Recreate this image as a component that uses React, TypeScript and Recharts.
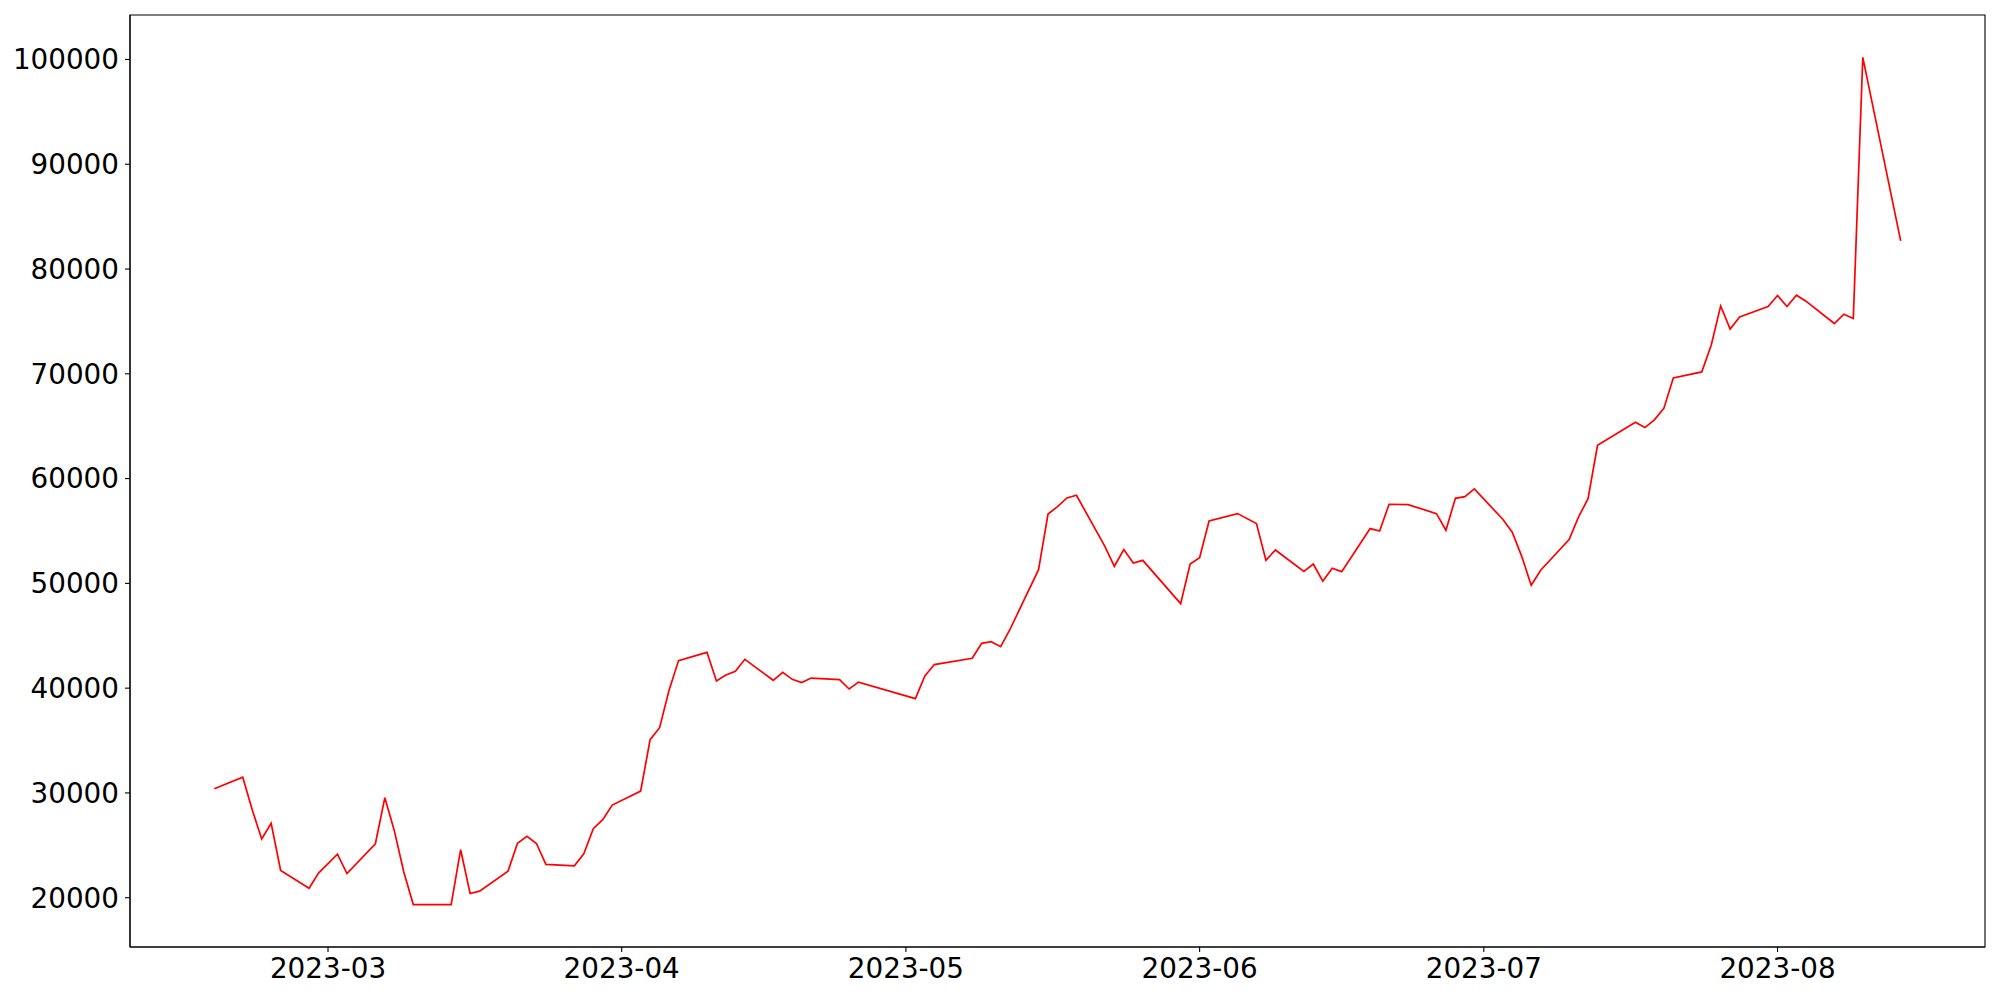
import React from 'react';
import { LineChart, Line, XAxis, YAxis, ReferenceArea } from 'recharts';

// trading dates, one line per month
const dates = [
  '2023-02-17', '2023-02-20', '2023-02-21', '2023-02-22', '2023-02-23', '2023-02-24', '2023-02-27', '2023-02-28',
  '2023-03-02', '2023-03-03', '2023-03-06', '2023-03-07', '2023-03-08', '2023-03-09', '2023-03-10', '2023-03-14', '2023-03-15', '2023-03-16', '2023-03-17', '2023-03-20', '2023-03-21', '2023-03-22', '2023-03-23', '2023-03-24', '2023-03-27', '2023-03-28', '2023-03-29', '2023-03-30', '2023-03-31',
  '2023-04-03', '2023-04-04', '2023-04-05', '2023-04-06', '2023-04-07', '2023-04-10', '2023-04-11', '2023-04-12', '2023-04-13', '2023-04-14', '2023-04-17', '2023-04-18', '2023-04-19', '2023-04-20', '2023-04-21', '2023-04-24', '2023-04-25', '2023-04-26',
  '2023-05-02', '2023-05-03', '2023-05-04', '2023-05-08', '2023-05-09', '2023-05-10', '2023-05-11', '2023-05-12', '2023-05-15', '2023-05-16', '2023-05-17', '2023-05-18', '2023-05-19', '2023-05-22', '2023-05-23', '2023-05-24', '2023-05-25', '2023-05-26', '2023-05-30', '2023-05-31',
  '2023-06-01', '2023-06-02', '2023-06-05', '2023-06-07', '2023-06-08', '2023-06-09', '2023-06-12', '2023-06-13', '2023-06-14', '2023-06-15', '2023-06-16', '2023-06-19', '2023-06-20', '2023-06-21', '2023-06-23', '2023-06-26', '2023-06-27', '2023-06-28', '2023-06-29', '2023-06-30',
  '2023-07-03', '2023-07-04', '2023-07-05', '2023-07-06', '2023-07-07', '2023-07-10', '2023-07-11', '2023-07-12', '2023-07-13', '2023-07-17', '2023-07-18', '2023-07-19', '2023-07-20', '2023-07-21', '2023-07-24', '2023-07-25', '2023-07-26', '2023-07-27', '2023-07-28', '2023-07-31',
  '2023-08-01', '2023-08-02', '2023-08-03', '2023-08-04', '2023-08-07', '2023-08-08', '2023-08-09', '2023-08-10', '2023-08-14',
];

const values = [
  30400, 31500, 28400, 25600, 27100, 22600, 20900, 22350,
  24150, 22300, 25150, 29550, 26400, 22450, 19350, 19340, 24580, 20400, 20630, 22540, 25200, 25850, 25180, 23180, 23050, 24200, 26590, 27450, 28840,
  30180, 35080, 36230, 39790, 42630, 43420, 40680, 41250, 41600, 42750, 40750, 41500, 40840, 40530, 40960, 40810, 39920, 40580,
  39000, 41160, 42250, 42850, 44280, 44440, 43960, 45640, 51310, 56620, 57330, 58150, 58410, 53540, 51630, 53220, 51940, 52200, 48070, 51850,
  52450, 55950, 56660, 55710, 52200, 53190, 51150, 51850, 50200, 51440, 51120, 55230, 55000, 57550, 57520, 56660, 55070, 58120, 58280, 59010,
  56120, 54880, 52580, 49820, 51250, 54180, 56340, 58090, 63180, 65380, 64870, 65600, 66700, 69600, 70180, 72730, 76480, 74280, 75430, 76420,
  77470, 76420, 77500, 76930, 74800, 75690, 75280, 100200, 82690,
];

const monthTicks = ['2023-03-01', '2023-04-01', '2023-05-01', '2023-06-01', '2023-07-01', '2023-08-01'];
const yTicks = [20000, 30000, 40000, 50000, 60000, 70000, 80000, 90000, 100000];

const toTs = (s: string) => {
  const [y, m, d] = s.split('-').map(Number);
  return Date.UTC(y, m - 1, d);
};

const data = dates.map((d, i) => ({ t: toTs(d), v: values[i] }));

// matplotlib-like 5% margins
const tMin = Math.min(...data.map((p) => p.t));
const tMax = Math.max(...data.map((p) => p.t));
const vMin = Math.min(...values);
const vMax = Math.max(...values);
const xDomain = [tMin - (tMax - tMin) * 0.05, tMax + (tMax - tMin) * 0.05];
const yDomain = [vMin - (vMax - vMin) * 0.05, vMax + (vMax - vMin) * 0.05];

const fmtMonth = (t: number) => {
  const d = new Date(t);
  return `${d.getUTCFullYear()}-${String(d.getUTCMonth() + 1).padStart(2, '0')}`;
};

const tickStyle = { fontSize: 27.8, fill: '#000', fontFamily: 'DejaVu Sans' };

export default function App() {
  return (
    <div style={{ position: 'absolute', left: 0, top: 0, width: 2000, height: 1000, background: '#fff' }}>
      <LineChart width={2000} height={1000} data={data} margin={{ top: 15, right: 15, bottom: 0, left: 0 }}>
        <XAxis
          dataKey="t"
          type="number"
          scale="linear"
          domain={xDomain}
          allowDataOverflow
          ticks={monthTicks.map(toTs)}
          tickFormatter={fmtMonth}
          height={53}
          tick={tickStyle}
          tickSize={5}
          tickMargin={6}
          stroke="#000"
          axisLine={{ stroke: '#000', strokeWidth: 1.1 }}
          tickLine={{ stroke: '#000', strokeWidth: 1.1 }}
        />
        <YAxis
          type="number"
          domain={yDomain}
          allowDataOverflow
          ticks={yTicks}
          width={130}
          tick={tickStyle}
          tickSize={5}
          tickMargin={6}
          stroke="#000"
          axisLine={{ stroke: '#000', strokeWidth: 1.1 }}
          tickLine={{ stroke: '#000', strokeWidth: 1.1 }}
        />
        <ReferenceArea
          x1={xDomain[0]}
          x2={xDomain[1]}
          y1={yDomain[0]}
          y2={yDomain[1]}
          fill="none"
          stroke="#000"
          strokeWidth={1.1}
          ifOverflow="visible"
        />
        <Line
          type="linear"
          dataKey="v"
          stroke="#ff0000"
          strokeWidth={1.7}
          dot={false}
          isAnimationActive={false}
        />
      </LineChart>
    </div>
  );
}
